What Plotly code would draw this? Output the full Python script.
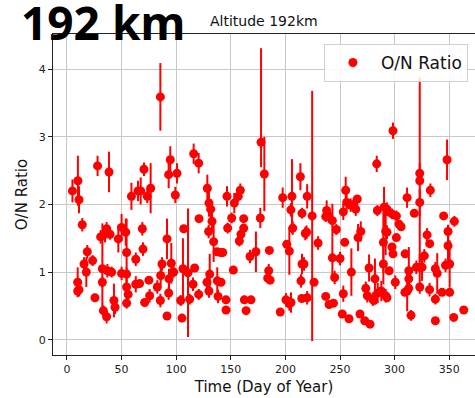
import plotly.graph_objects as go

# Day of year for each measurement
days = [
    5, 10, 11, 14, 28, 38.5, 59, 65, 18.6, 23.5, 15.6, 17.7, 9.8, 9.8, 11, 25.6, 30.8, 34.8, 36.3, 39.4,
    32.4, 32.4, 37, 40.9, 33.3, 36.3, 43, 44, 47, 50, 53.8, 54.6, 50, 54.6, 54.6, 56, 54.6, 63, 63,
    85.5, 70.5, 67.5, 73.5, 76.6, 94.6, 93.1, 100.7, 99.2, 116, 120.6, 128.5, 130, 131.6, 132.8, 129.7, 120.9, 134.3, 137.4, 140.7,
    69, 69.6, 91.6, 106.9, 87, 95.5, 97.7, 85.8, 93.4, 75, 66.5, 82.7, 93.1, 75.7, 71.1, 85.5, 91.6, 106.2, 104.1, 105.3,
    110.8, 112.3, 116.9, 115.4, 120.6, 128.2, 130.7, 130, 137.6, 138.3,
    177.7, 180.7, 146.5, 153.2, 158.7, 156.8, 150.8, 147.1, 161.8, 161.8, 159.3, 157.8, 177, 142.6, 152.3, 167.6, 173, 185.3, 184.7, 183.8,
    186, 145.6, 145.6, 162.4, 168.5, 164, 141, 197.5, 206, 213.7, 205, 215.2, 206.7, 201.2, 203.6, 215.2, 214.3, 200.5, 203.6, 205.1,
    195.3, 215, 218.2,
    224.5, 226.2, 219.9, 219.4, 217, 219.9, 229.9, 237.8, 236.9, 239.7, 243, 246.6, 243, 245.1, 250, 236.9, 240, 244, 253, 252.1,
    258.2, 260.4, 254.3, 255.2, 253, 256.1, 259.7, 262.6, 265.8, 264.4, 266.5, 269, 268.3, 272.6, 277.5, 273.6, 276.6, 275, 280, 282,
    283.6, 284.2, 290.3, 289.7, 291.8, 289.7, 287.8, 291.8, 284.5, 281,
    298.5, 323, 323, 323, 332.7, 348, 311.4, 318, 293, 297.6, 301.6, 304, 305.9, 293, 301.6, 297.6, 298.5, 309.6, 295, 300.6,
    293, 309.4, 311.5, 312.9, 313, 313, 315, 319.9, 323, 325.1, 323, 327.2, 329.7, 332.1, 332, 337.3, 339, 337.3, 337.3, 343.4,
    344.9, 348.9, 348.9, 350.4, 346.6, 350.4, 354.7, 354.1, 363.3,
]

# O/N ratio values
ratio = [
    2.20, 2.35, 2.07, 1.70, 2.57, 2.48, 2.12, 2.20, 1.30, 1.17, 1.12, 1.00, 0.85, 0.72, 0.74, 0.62, 1.52, 1.56, 1.64, 1.56,
    1.05, 0.85, 1.02, 1.00, 0.43, 0.34, 0.58, 0.48, 1.49, 1.66, 1.59, 1.29, 0.98, 0.97, 0.78, 0.67, 0.54, 1.19, 0.82,
    3.59, 2.52, 2.20, 2.12, 2.24, 2.66, 2.44, 2.46, 2.14, 2.75, 2.61, 2.24, 2.02, 1.93, 1.75, 1.60, 1.79, 1.45, 1.30, 1.29,
    1.64, 1.34, 1.49, 1.64, 1.12, 1.13, 1.00, 0.95, 0.90, 0.88, 0.83, 0.78, 0.69, 0.65, 0.55, 0.58, 0.35, 1.05, 0.58, 0.32,
    0.99, 0.60, 1.06, 0.82, 0.67, 0.85, 0.97, 0.72, 0.87, 0.64,
    2.92, 2.45, 2.12, 2.02, 2.21, 2.12, 1.80, 1.65, 1.79, 1.65, 1.56, 1.46, 1.80, 1.29, 1.03, 1.23, 1.30, 1.32, 1.02, 0.91,
    0.88, 0.59, 0.44, 0.59, 0.59, 0.43, 0.85, 2.10, 2.12, 2.41, 1.92, 1.87, 1.65, 1.41, 1.31, 1.12, 0.87, 0.59, 0.53, 0.55,
    0.41, 0.61, 1.57,
    1.83, 0.85, 2.12, 1.59, 1.12, 0.62, 1.43, 1.91, 1.82, 1.83, 1.76, 1.63, 1.21, 0.92, 1.20, 0.64, 0.52, 0.54, 0.68, 0.38,
    0.31, 1.00, 1.44, 2.21, 1.89, 2.03, 1.99, 2.00, 2.08, 1.93, 1.51, 1.60, 0.38, 0.28, 0.23, 0.76, 1.06, 0.65, 0.60, 0.90,
    2.60, 1.91, 1.96, 1.44, 1.60, 1.12, 0.72, 0.65, 0.69, 0.58,
    3.09, 2.46, 2.35, 2.03, 2.21, 2.66, 2.10, 1.87, 1.93, 1.86, 1.83, 1.71, 1.67, 1.59, 1.51, 1.37, 1.27, 1.27, 1.02, 0.85,
    0.62, 0.70, 0.72, 0.76, 0.90, 1.02, 0.36, 1.07, 1.07, 1.07, 0.78, 1.24, 1.55, 1.42, 0.74, 1.05, 0.98, 0.60, 0.28, 0.70,
    1.83, 1.60, 1.39, 1.12, 1.10, 0.70, 1.75, 0.33, 0.44,
]

# Upper error
err_up = [
    0.17, 0.37, 0.20, 0.10, 0.15, 0.30, 0.20, 0.15, 0.10, 0.08, 0.10, 0.22, 0.22, 0.08, 0.10, 0.06, 0.10, 0.12, 0.10, 0.08,
    0.67, 0.08, 0.10, 0.08, 0.08, 0.10, 0.25, 0.10, 0.20, 0.20, 0.20, 0.50, 0.10, 0.10, 0.10, 0.08, 0.08, 0.10, 0.12,
    0.50, 0.10, 0.20, 0.10, 0.37, 0.20, 0.20, 0.15, 0.12, 0.15, 0.15, 0.20, 0.20, 0.15, 0.15, 0.10, 0.05, 0.30, 0.05, 0.05,
    0.10, 0.10, 0.30, 0.05, 0.10, 0.30, 0.08, 0.15, 0.15, 0.05, 0.05, 0.10, 0.10, 0.10, 0.05, 0.10, 0.05, 0.45, 0.08, 0.06,
    0.95, 0.08, 0.05, 0.10, 0.08, 0.15, 0.30, 0.10, 0.20, 0.10,
    1.39, 0.55, 0.15, 0.15, 0.10, 0.08, 0.08, 0.08, 0.05, 0.05, 0.08, 0.08, 0.15, 0.05, 0.05, 0.10, 0.30, 0.05, 0.10, 0.05,
    0.05, 0.05, 0.05, 0.06, 0.04, 0.04, 0.05, 0.15, 0.55, 0.20, 0.10, 0.08, 0.10, 0.05, 0.35, 0.15, 0.10, 0.10, 0.10, 0.15,
    0.05, 0.05, 0.10,
    1.85, 0.05, 0.18, 0.10, 0.10, 0.10, 0.10, 0.15, 0.08, 0.10, 0.25, 0.08, 0.30, 0.10, 0.10, 0.05, 0.05, 0.05, 0.12, 0.05,
    0.05, 0.35, 0.05, 0.20, 0.12, 0.12, 0.10, 0.10, 0.05, 0.10, 0.20, 0.15, 0.05, 0.03, 0.03, 0.10, 0.20, 0.10, 0.10, 0.30,
    0.12, 0.08, 0.30, 0.45, 0.35, 0.30, 0.15, 0.10, 0.15, 0.05,
    0.12, 0.15, 1.53, 0.20, 0.10, 0.30, 0.15, 0.05, 0.10, 0.08, 0.08, 0.05, 0.05, 0.10, 0.05, 0.05, 0.05, 0.05, 0.05, 0.10,
    0.05, 0.05, 0.30, 0.10, 0.10, 0.35, 0.08, 0.10, 0.20, 0.20, 0.10, 0.10, 0.10, 0.05, 0.10, 0.10, 0.30, 0.08, 0.05, 0.05,
    0.05, 0.10, 0.30, 0.35, 0.10, 0.05, 0.08, 0.05, 0.03,
]

# Lower error
err_down = [
    0.17, 0.37, 0.20, 0.10, 0.15, 0.30, 0.20, 0.15, 0.10, 0.08, 0.10, 0.22, 0.22, 0.08, 0.10, 0.06, 0.10, 0.12, 0.10, 0.08,
    0.67, 0.08, 0.10, 0.08, 0.08, 0.10, 0.25, 0.10, 0.20, 0.20, 0.20, 0.50, 0.10, 0.10, 0.10, 0.08, 0.08, 0.10, 0.12,
    0.50, 0.10, 0.20, 0.10, 0.37, 0.20, 0.20, 0.15, 0.12, 0.15, 0.15, 0.20, 0.20, 0.15, 0.15, 0.10, 0.05, 0.30, 0.05, 0.05,
    0.10, 0.10, 0.30, 0.05, 0.10, 0.30, 0.08, 0.15, 0.15, 0.05, 0.05, 0.10, 0.10, 0.10, 0.05, 0.10, 0.05, 0.45, 0.08, 0.06,
    0.95, 0.08, 0.05, 0.10, 0.08, 0.15, 0.30, 0.10, 0.20, 0.10,
    0.37, 0.55, 0.15, 0.15, 0.10, 0.08, 0.08, 0.08, 0.05, 0.05, 0.08, 0.08, 0.15, 0.05, 0.05, 0.10, 0.30, 0.05, 0.10, 0.05,
    0.05, 0.05, 0.05, 0.06, 0.04, 0.04, 0.05, 0.15, 0.55, 0.20, 0.10, 0.08, 0.10, 0.05, 0.35, 0.15, 0.10, 0.10, 0.10, 0.15,
    0.05, 0.05, 0.10,
    1.85, 0.05, 0.18, 0.10, 0.10, 0.10, 0.10, 0.15, 0.08, 0.10, 0.25, 0.08, 0.30, 0.10, 0.10, 0.05, 0.05, 0.05, 0.12, 0.05,
    0.05, 0.35, 0.05, 0.20, 0.12, 0.12, 0.10, 0.10, 0.05, 0.10, 0.20, 0.15, 0.05, 0.03, 0.03, 0.10, 0.20, 0.10, 0.10, 0.30,
    0.12, 0.08, 0.30, 0.45, 0.35, 0.30, 0.15, 0.10, 0.15, 0.05,
    0.12, 0.15, 1.20, 0.20, 0.10, 0.30, 0.15, 0.05, 0.10, 0.08, 0.08, 0.05, 0.05, 0.10, 0.05, 0.05, 0.05, 0.05, 0.05, 0.10,
    0.05, 0.05, 0.30, 0.10, 0.10, 0.35, 0.08, 0.10, 0.20, 0.20, 0.10, 0.10, 0.10, 0.05, 0.10, 0.10, 0.30, 0.08, 0.05, 0.05,
    0.05, 0.10, 0.30, 0.35, 0.10, 0.05, 0.08, 0.05, 0.03,
]

x_ticks = [0, 50, 100, 150, 200, 250, 300, 350]
y_ticks = [0, 1, 2, 3, 4]

fig = go.Figure()
fig.add_trace(go.Scatter(
    x=days, y=ratio, mode="markers", name="O/N Ratio",
    marker=dict(color="#ff0000", size=9),
    error_y=dict(type="data", array=err_up, arrayminus=err_down, symmetric=False,
                 color="#ff0000", thickness=2, width=0, visible=True),
))

axis_common = dict(
    showgrid=True, gridcolor="#c8c8c8", gridwidth=1,
    showline=True, linecolor="#222222", linewidth=1.2,
    ticks="outside", ticklen=4, tickcolor="#222222", tickwidth=1,
    tickfont=dict(size=11, color="#222222", family="DejaVu Sans"),
    zeroline=False,
)

fig.update_xaxes(range=[-12.8, 373.6], tickvals=x_ticks, mirror=True,
                 title=dict(text="Time (Day of Year)", font=dict(size=15, color="#111111"), standoff=6),
                 **axis_common)
fig.update_yaxes(range=[-0.226, 4.52], tickvals=y_ticks,
                 title=dict(text="O/N Ratio", font=dict(size=15, color="#111111"), standoff=7),
                 **axis_common)

fig.update_layout(
    width=475, height=398,
    margin=dict(l=53, r=0, t=34, b=43),
    plot_bgcolor="white", paper_bgcolor="white",
    font=dict(family="DejaVu Sans", color="#222222"),
    showlegend=True,
    legend=dict(x=0.642, y=0.969, xanchor="left", yanchor="top", itemwidth=46,
                bgcolor="rgba(255,255,255,0.85)", bordercolor="#d0d0d0", borderwidth=1,
                font=dict(size=17, color="#111111", family="DejaVu Sans")),
    annotations=[
        dict(text="Altitude 192km", xref="paper", yref="paper", x=0.5, y=1.0405,
             xanchor="center", yanchor="middle", showarrow=False,
             font=dict(size=14, color="#111111", family="DejaVu Sans")),
        dict(text="<b>192 km</b>", xref="paper", yref="paper", x=-0.081, y=1.037,
             xanchor="left", yanchor="middle", showarrow=False, height=44, valign="middle",
             font=dict(size=46, color="#000000", family="Noto Sans")),
    ],
)

fig.write_html("out.html")
